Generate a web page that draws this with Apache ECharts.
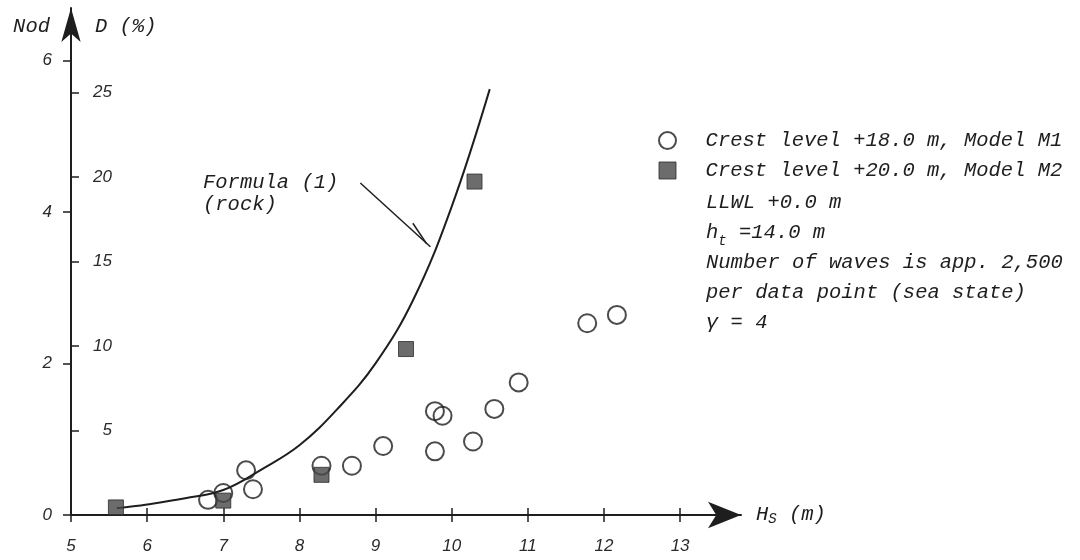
<!DOCTYPE html>
<html>
<head>
<meta charset="utf-8">
<title>Nod / D against Hs</title>
<script src="https://cdn.jsdelivr.net/npm/echarts@6/dist/echarts.min.js"></script>
<style>
  html, body { margin: 0; padding: 0; background: #fff; }
  #chart { width: 1080px; height: 560px; }
</style>
</head>
<body>
<div id="chart"></div>
<script>
// tick labels
const hsTicks = [5, 6, 7, 8, 9, 10, 11, 12, 13]
const nodTicks = [0, 2, 4, 6]
const damageTicks = [5, 10, 15, 20, 25]

// measured points [Hs (m), Nod]
const m1Name = 'Crest level +18.0 m, Model M1'
const m2Name = 'Crest level +20.0 m, Model M2'
const modelM1 = [
  [6.80, 0.20], [7.00, 0.29], [7.30, 0.59], [7.39, 0.34], [8.29, 0.65],
  [8.69, 0.65], [9.10, 0.91], [9.78, 0.84], [9.78, 1.37], [9.88, 1.31],
  [10.28, 0.97], [10.56, 1.40], [10.88, 1.75], [11.78, 2.53], [12.17, 2.64]
]
const modelM2 = [[5.59, 0.10], [7.00, 0.19], [8.29, 0.53], [9.40, 2.19], [10.30, 4.40]]

// formula (1), rock
const formulaHs = [5.6, 6.0, 6.5, 7.0, 7.5, 8.0, 8.5, 9.0, 9.5, 10.0, 10.5]
const formulaNod = [0.09, 0.14, 0.22, 0.33, 0.60, 0.92, 1.40, 2.00, 2.85, 4.07, 5.62]

// leader from the "Formula (1)" note to the curve, in data units
const leaderLine = [[8.80, 4.38], [9.72, 3.54]]
const leaderBarb = [[9.49, 3.85], [9.67, 3.58]]

const noteLines = [
  'LLWL +0.0 m',
  '{i|h}{sub|t} =14.0 m',
  'Number of waves is app. 2,500',
  'per data point (sea state)',
  'γ = 4'
]

const ink = '#1e1e1e'
const mono = 'Liberation Mono'
const numFont = { fontFamily: 'Liberation Sans', fontStyle: 'italic', fontSize: 17, color: '#2a2a2a' }
const wordFont = { fontFamily: mono, fontStyle: 'italic', fontSize: 20.5, color: ink }

const chart = echarts.init(document.getElementById('chart'))

const option = {
  backgroundColor: '#fff',
  animation: false,
  textStyle: { fontFamily: mono, fontStyle: 'italic', color: ink },
  grid: { left: 71, right: 339, top: 8, bottom: 45, containLabel: false, outerBoundsMode: 'none' },
  legend: {
    orient: 'vertical',
    left: 658,
    top: 130,
    padding: 0,
    itemWidth: 17,
    itemHeight: 17,
    itemGap: 9,
    selectedMode: false,
    data: [m1Name, m2Name],
    formatter: name => '  ' + name,
    textStyle: { ...wordFont, lineHeight: 21 },
    itemStyle: { borderWidth: 'inherit' }
  },
  xAxis: [
    {
      type: 'value',
      min: 5,
      max: 13.8,
      position: 'bottom',
      name: '{h|H}{s|S} (m)',
      nameLocation: 'end',
      nameGap: 15,
      nameMoveOverlap: false,
      nameTextStyle: {
        ...wordFont,
        rich: {
          h: { ...wordFont, lineHeight: 22 },
          s: { fontFamily: mono, fontStyle: 'italic', fontSize: 14, color: ink, lineHeight: 12, verticalAlign: 'bottom' }
        }
      },
      axisLine: {
        onZero: false,
        symbol: ['none', 'arrow'],
        symbolSize: [20, 33],
        lineStyle: { color: ink, width: 2 }
      },
      axisTick: { customValues: hsTicks, length: 7, lineStyle: { color: ink, width: 1.5 } },
      axisLabel: { customValues: hsTicks, margin: 23, ...numFont },
      splitLine: { show: false }
    },
    {
      // upper half of the crossing ticks
      type: 'value',
      min: 5,
      max: 13.8,
      position: 'bottom',
      axisLine: { show: false, onZero: false },
      axisTick: { inside: true, customValues: hsTicks.slice(1), length: 7, lineStyle: { color: ink, width: 1.5 } },
      axisLabel: { show: false },
      splitLine: { show: false }
    }
  ],
  yAxis: [
    {
      type: 'value',
      min: 0,
      max: 6.69,
      position: 'left',
      name: 'Nod',
      nameLocation: 'end',
      nameGap: -29,
      nameMoveOverlap: false,
      nameTextStyle: { ...wordFont, align: 'right', padding: [0, 21, 0, 0] },
      axisLine: {
        onZero: false,
        symbol: ['none', 'arrow'],
        symbolSize: [14.5, 34],
        lineStyle: { color: ink, width: 2 }
      },
      axisTick: { customValues: nodTicks, length: 8, lineStyle: { color: ink, width: 1.5 } },
      axisLabel: { customValues: nodTicks, margin: 19, ...numFont },
      splitLine: { show: false }
    },
    {
      type: 'value',
      min: 0,
      max: 30,
      position: 'left',
      offset: 0,
      name: 'D (%)',
      nameLocation: 'end',
      nameGap: -29,
      nameMoveOverlap: false,
      nameTextStyle: { ...wordFont, align: 'left', padding: [0, 0, 0, 24] },
      axisLine: { show: false, onZero: false },
      axisTick: { inside: true, customValues: damageTicks, length: 8, lineStyle: { color: ink, width: 1.5 } },
      axisLabel: { inside: true, customValues: damageTicks, margin: 41, align: 'right', ...numFont },
      splitLine: { show: false }
    }
  ],
  graphic: [
    {
      type: 'text',
      left: 706,
      top: 188,
      silent: true,
      style: {
        text: noteLines.join('\n'),
        font: 'italic 20.5px "Liberation Mono"',
        fill: ink,
        lineHeight: 30,
        rich: {
          i: { fontFamily: mono, fontStyle: 'italic', fontSize: 20.5, fill: ink, lineHeight: 30 },
          sub: { fontFamily: mono, fontStyle: 'italic', fontSize: 14, fill: ink, lineHeight: 20, verticalAlign: 'bottom' }
        }
      }
    },
    {
      type: 'text',
      left: 203,
      top: 172,
      silent: true,
      style: {
        text: 'Formula (1)\n(rock)',
        font: 'italic 20.5px "Liberation Mono"',
        fill: ink,
        lineHeight: 22
      }
    }
  ],
  series: [
    {
      name: 'Formula (1)',
      type: 'line',
      data: formulaHs.map((h, i) => [h, formulaNod[i]]),
      smooth: 0.4,
      symbol: 'none',
      silent: true,
      lineStyle: { color: ink, width: 2 },
      z: 2,
      markLine: {
        silent: true,
        symbol: 'none',
        label: { show: false },
        lineStyle: { color: ink, width: 1.5, type: 'solid' },
        data: [
          [{ coord: leaderLine[0] }, { coord: leaderLine[1] }],
          [{ coord: leaderBarb[0] }, { coord: leaderBarb[1] }]
        ]
      }
    },
    {
      name: m1Name,
      type: 'scatter',
      data: modelM1,
      symbol: 'circle',
      symbolSize: 18,
      itemStyle: { color: 'rgba(255,255,255,0)', borderColor: ink, borderWidth: 2 },
      z: 3
    },
    {
      name: m2Name,
      type: 'scatter',
      data: modelM2,
      symbol: 'rect',
      symbolSize: 15,
      itemStyle: { color: '#474747', borderColor: '#2b2b2b', borderWidth: 1 },
      z: 4
    }
  ]
}

chart.setOption(option)
window.addEventListener('resize', () => chart.resize())
</script>
</body>
</html>
